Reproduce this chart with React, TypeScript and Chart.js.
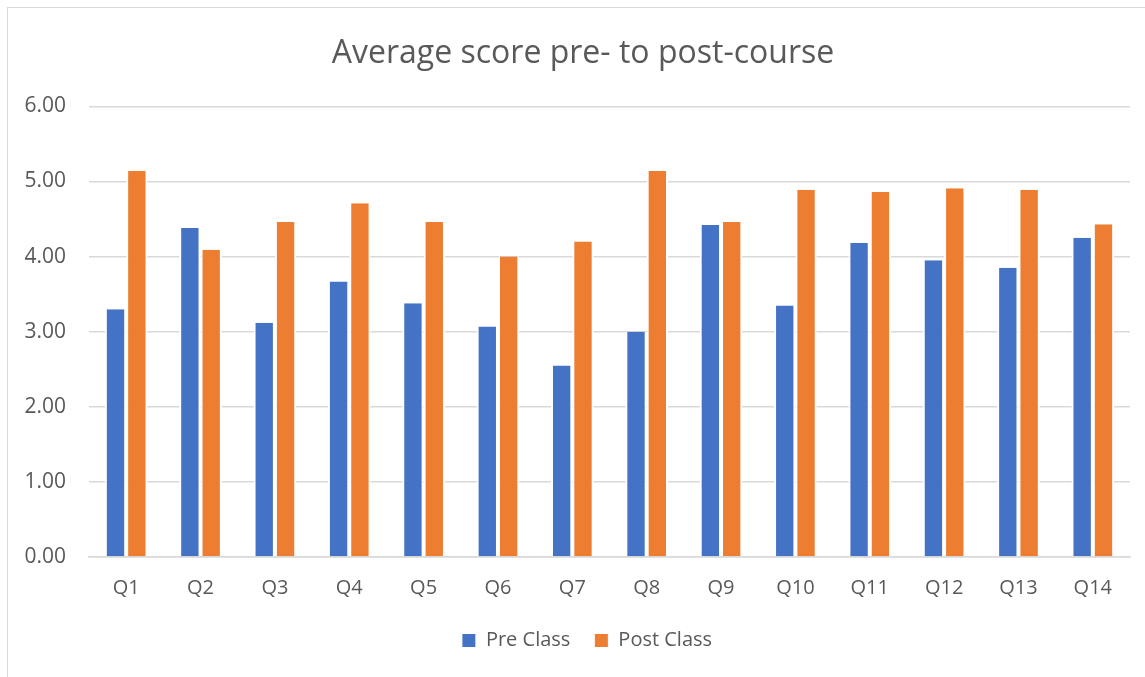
import React, { useEffect, useRef } from "react";
import { Chart, registerables } from "chart.js";

Chart.register(...registerables);

const categories = ["Q1", "Q2", "Q3", "Q4", "Q5", "Q6", "Q7", "Q8", "Q9", "Q10", "Q11", "Q12", "Q13", "Q14"];
const preClass = [3.30, 4.38, 3.12, 3.67, 3.38, 3.07, 2.55, 3.00, 4.42, 3.35, 4.18, 3.95, 3.85, 4.25];
const postClass = [5.14, 4.09, 4.46, 4.71, 4.46, 4.00, 4.20, 5.14, 4.46, 4.89, 4.86, 4.91, 4.89, 4.43];
const yTicks = [0, 1, 2, 3, 4, 5, 6];

const FONT = "'Open Sans', 'Noto Sans', sans-serif";
const TEXT = "#595959";

const centerBlocks = {
  id: "centerBlocks",
  afterLayout(chart: any) {
    if (chart.titleBlock) {
      chart.titleBlock.left = 0;
      chart.titleBlock.right = chart.width;
    }
    if (chart.legend) {
      chart.legend.left = 0;
      chart.legend.right = chart.width + 8;
    }
  },
};

export default function App() {
  const ref = useRef<HTMLCanvasElement | null>(null);
  useEffect(() => {
    if (!ref.current) return;
    const chart = new Chart(ref.current, {
      type: "bar",
      data: {
        labels: categories,
        datasets: [
          {
            label: "Pre Class",
            data: preClass,
            backgroundColor: "#4472C4",
            borderColor: "#ffffff",
            borderWidth: { left: 2, right: 2, top: 0, bottom: 0 },
            categoryPercentage: 0.574,
            barPercentage: 1,
          },
          {
            label: "Post Class",
            data: postClass,
            backgroundColor: "#ED7D31",
            borderColor: "#ffffff",
            borderWidth: { left: 2, right: 2, top: 0, bottom: 0 },
            categoryPercentage: 0.574,
            barPercentage: 1,
          },
        ],
      },
      plugins: [centerBlocks],
      options: {
        animation: false,
        responsive: false,
        layout: { padding: { left: 0, right: 29, top: 0, bottom: 16.5 } },
        plugins: {
          tooltip: { enabled: false },
          title: {
            display: true,
            text: "Average score pre- to post-course",
            color: TEXT,
            font: { family: FONT, size: 32, weight: "normal" },
            padding: { top: 35, bottom: 33 },
          },
          legend: {
            position: "bottom",
            labels: {
              color: TEXT,
              font: { family: FONT, size: 20 },
              boxWidth: 14,
              boxHeight: 14,
              padding: 24,
            },
          },
        },
        scales: {
          x: {
            grid: { display: false, drawTicks: false },
            border: { display: true, color: "#D9D9D9", width: 1.5 },
            ticks: { color: TEXT, font: { family: FONT, size: 20 }, padding: 19 },
            afterFit: (s: any) => {
              s.height = 49.5;
            },
          },
          y: {
            min: 0,
            max: 6,
            afterBuildTicks: (s: any) => {
              s.ticks = yTicks.map((v) => ({ value: v }));
            },
            grid: { color: "#D9D9D9", lineWidth: 1.5, drawTicks: false },
            border: { display: false },
            ticks: {
              color: TEXT,
              font: { family: FONT, size: 21 },
              padding: 23,
              callback: (v: any) => Number(v).toFixed(2),
            },
            afterFit: (s: any) => {
              s.width = 82;
            },
          },
        },
      },
    });
    return () => chart.destroy();
  }, []);

  return (
    <div style={{ position: "fixed", left: 0, top: 0, width: 1145, height: 677, overflow: "hidden", background: "#fff" }}>
      <div
        style={{
          position: "absolute",
          left: 7,
          top: 7,
          width: 1152,
          height: 700,
          border: "1.5px solid #D9D9D9",
          boxSizing: "border-box",
        }}
      />
      <canvas ref={ref} width={1152} height={677} style={{ position: "absolute", left: 7, top: 0, display: "block" }} />
    </div>
  );
}
